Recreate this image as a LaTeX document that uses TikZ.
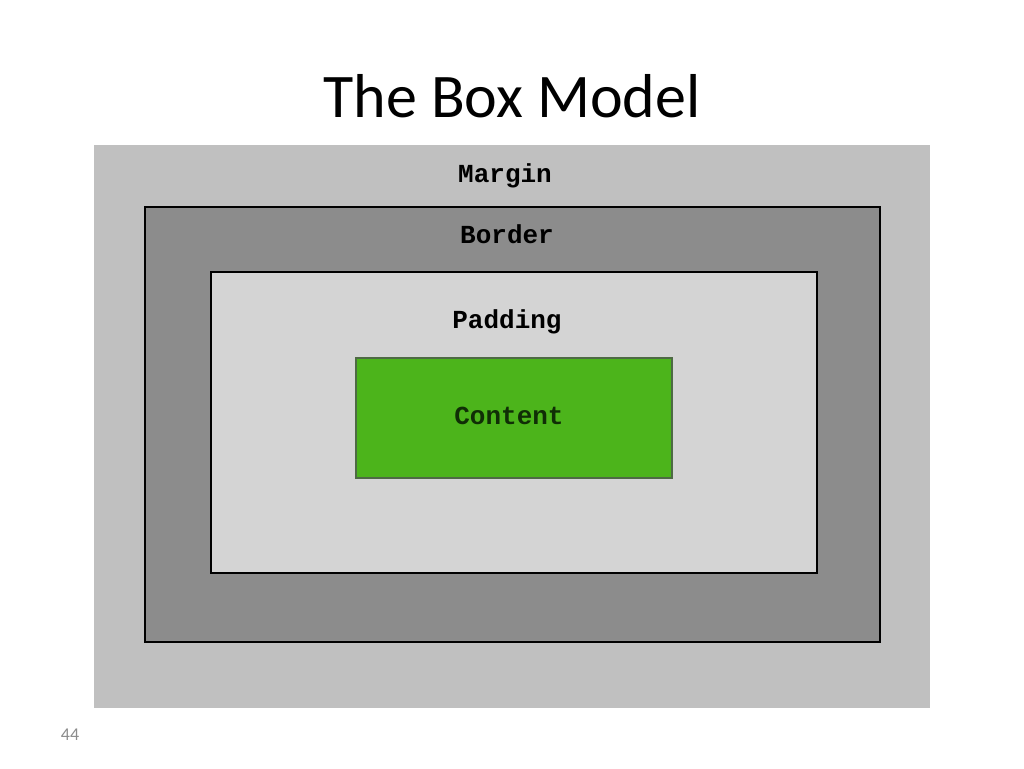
\documentclass[tikz,border=0pt]{standalone}
\usepackage{fontspec}
\setmainfont{Carlito}
\newfontfamily\boxfont{Liberation Mono}
\usetikzlibrary{positioning}
\definecolor{margingray}{HTML}{C0C0C0}
\definecolor{bordergray}{HTML}{8C8C8C}
\definecolor{paddinggray}{HTML}{D4D4D4}
\definecolor{contentgreen}{HTML}{4CB41B}
\definecolor{contentedge}{HTML}{4E6A44}
\definecolor{contenttext}{HTML}{102E06}
\tikzset{
  layerlabel/.style={font=\boxfont\bfseries\fontsize{26}{30}\selectfont, text=black, inner sep=0pt},
  layerline/.style={draw=black, line width=2pt}
}
\begin{document}
\begin{tikzpicture}[x=1pt, y=-1pt]
  \useasboundingbox[fill=white] (0,0) rectangle (1024,768);

  % Title
  \node[font=\fontsize{62}{70}\selectfont, anchor=base] (title) at (512,117) {The Box Model};

  % Margin area
  \fill[margingray] (94,145) rectangle (930,708);
  \node[layerlabel] (marginlbl) at (505,176) {Margin};

  % Border area
  \filldraw[fill=bordergray, layerline] (145,207) rectangle (880,642);
  \node[layerlabel] (borderlbl) at (507,234) {Border};

  % Padding area
  \filldraw[fill=paddinggray, layerline] (211,272) rectangle (817,573);
  \node[layerlabel] (paddinglbl) at (507,322) {Padding};

  % Content area
  \filldraw[fill=contentgreen, draw=contentedge, line width=1.5pt] (356,358) rectangle (672,478);
  \node[layerlabel, text=contenttext] (contentlbl) at (509,416) {Content};

  % Slide number
  \node[font=\fontsize{18}{20}\selectfont, text=black!45] (pagenum) at (70,735) {44};
\end{tikzpicture}
\end{document}
